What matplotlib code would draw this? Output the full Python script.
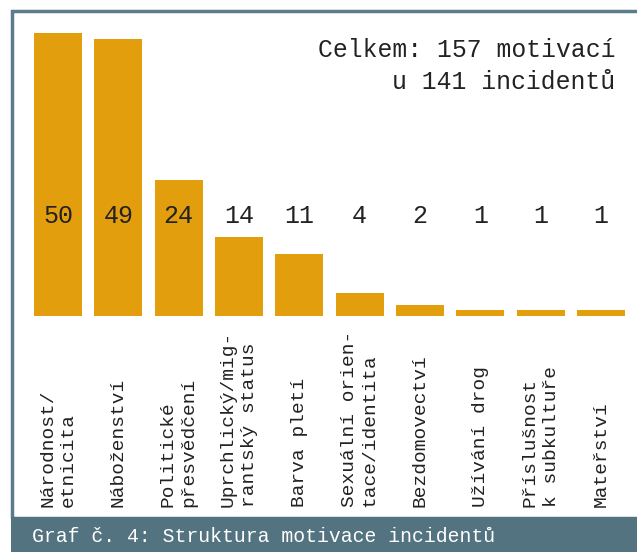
import matplotlib
matplotlib.use("Agg")
import matplotlib.pyplot as plt
from matplotlib.patches import Rectangle
import matplotlib.transforms as mtransforms

categories = ["Národnost/\netnicita", "Náboženství", "Politické\npřesvědčení",
              "Uprchlický/mig-\nrantský status", "Barva pletí",
              "Sexuální orien-\ntace/identita", "Bezdomovectví", "Užívání drog",
              "Příslušnost\nk subkultuře", "Mateřství"]
values = [50, 49, 24, 14, 11, 4, 2, 1, 1, 1]
note = "Celkem: 157 motivací\nu 141 incidentů"
caption = "Graf č. 4: Struktura motivace incidentů"

W, H = 637, 552
bar_color = "#E39E0E"
frame_color = "#5A7C8C"
band_color = "#52737F"
text_color = "#222222"
mono = ["Liberation Mono", "DejaVu Sans Mono"]

fig = plt.figure(figsize=(W / 100, H / 100), dpi=100)
fig.patch.set_facecolor("white")

# plot area: pixel x 11..637, y 10..316 (from top)
ax = fig.add_axes([11 / W, (H - 316) / H, 1 - 11 / W, 306 / H])
ax.set_facecolor("none")
step = 60.33
ax.set_xlim((11 - 58) / step, (637 - 58) / step)
ax.set_ylim(0, 306 / 5.66)
ax.axis("off")

x = range(len(values))
ax.bar(x, values, width=48 / step, color=bar_color)

label_y = (316 - 216) / 5.66
for i, v in zip(x, values):
    ax.text(i, label_y, str(v), ha="center", va="center", fontsize=18,
            family=mono, color=text_color)

trans = mtransforms.blended_transform_factory(ax.transData, ax.transAxes)
for i, c in zip(x, categories):
    ax.text(i, (316 - 507) / 306, c, rotation=90, ha="center", va="bottom",
            multialignment="left", fontsize=14, family=mono,
            color=text_color, transform=trans, linespacing=1.3, clip_on=False)

# frame around chart
fig.patches.append(Rectangle((12 / W, (H - 518) / H), 1, 507 / H,
                             transform=fig.transFigure, fill=False,
                             edgecolor=frame_color, linewidth=2.5))
# caption band
fig.patches.append(Rectangle((10.5 / W, 0), 1, (H - 517) / H,
                             transform=fig.transFigure, facecolor=band_color,
                             edgecolor="none"))
fig.text(32 / W, (H - 537) / H, caption, ha="left", va="center",
         fontsize=14.2, family=mono, color="white")

fig.text(615 / W, (H - 66) / H, note, ha="right", va="center",
         multialignment="right", fontsize=17.8, family=mono,
         color=text_color, linespacing=1.42)

fig.savefig("out.png", dpi=100)
